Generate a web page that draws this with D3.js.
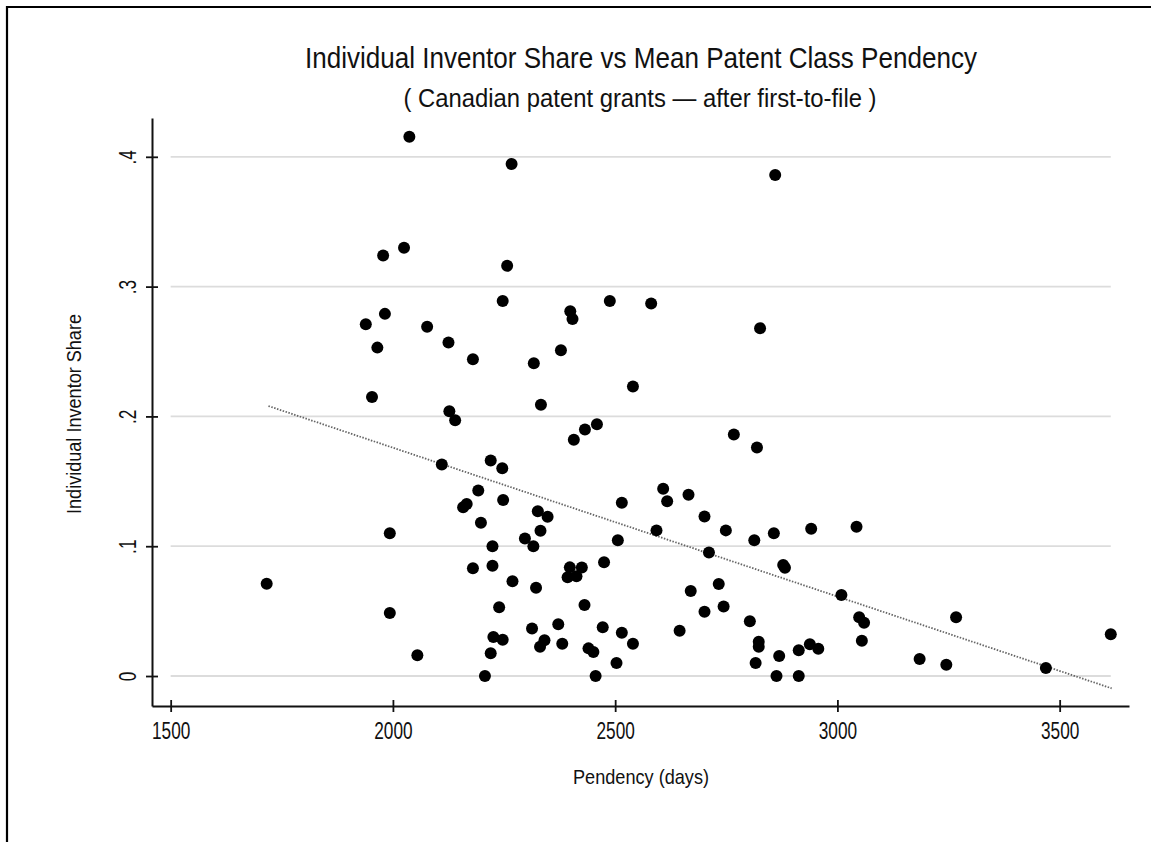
<!DOCTYPE html>
<html><head><meta charset="utf-8">
<script src="https://cdn.jsdelivr.net/npm/d3@7"></script>
<style>
body{margin:0;background:#fff}
svg{display:block}
text{font-family:"Liberation Sans",Arial,Helvetica,sans-serif;fill:#111}
</style>
</head><body>
<svg id="c" width="1151" height="842"></svg>
<script>
// Data
const pendency = [2037,2267,2860,2025,1978,2257,1939,1982,2247,2488,
  2581,2399,2404,2077,1965,2826,2317,2378,2125,2180,
  2540,1953,2127,2140,2333,2459,2432,2407,2767,2819,
  2110,2220,2246,2192,2158,2166,2248,2198,1993,2224,
  2180,2224,1716,2239,1993,2055,2226,2247,2220,2207,
  2326,2348,2332,2297,2316,2269,2322,2398,2425,2393,
  2413,2475,2431,2313,2372,2472,2515,2341,2331,2381,
  2540,2440,2451,2503,2456,2515,2506,2593,2608,2617,
  2665,2701,2711,2749,2813,2857,2941,2878,2882,2733,
  2670,2701,2744,2803,2645,2823,2823,2816,2869,2913,
  2938,2957,2863,2913,3009,3043,3049,3060,3055,3267,
  3185,3245,3469,3615];
const share = [.4155,.3945,.386,.330,.324,.316,.271,.279,.289,.289,
  .287,.281,.275,.269,.253,.268,.241,.251,.257,.244,
  .223,.215,.204,.197,.209,.194,.190,.182,.186,.176,
  .163,.166,.160,.143,.130,.1325,.1356,.118,.110,.100,
  .083,.085,.071,.053,.0485,.016,.030,.028,.0175,0,
  .127,.1227,.112,.106,.100,.073,.068,.0837,.0836,.076,
  .0768,.0877,.0547,.0366,.0398,.0376,.0334,.0276,.0226,.0249,
  .0249,.0213,.0185,.010,0,.1334,.1046,.1122,.1442,.1347,
  .1397,.1229,.0951,.1122,.1046,.110,.1135,.0855,.0834,.0709,
  .0655,.0495,.0535,.0422,.0348,.0264,.0226,.010,.0154,.0198,
  .0244,.021,0,0,.0624,.115,.0452,.041,.0272,.0452,
  .0131,.0087,.0062,.0321];
const fitX = [1720, 3617];
const fitY = [0.208, -0.0095];
const xTicks = [1500, 2000, 2500, 3000, 3500];
const yTicks = [0, 0.1, 0.2, 0.3, 0.4];
const yTickLabels = ["0", ".1", ".2", ".3", ".4"];
const titleText = "Individual Inventor Share vs Mean Patent Class Pendency";
const subtitleText = "( Canadian patent grants \u2014 after first-to-file )";
const xTitle = "Pendency (days)";
const yTitle = "Individual Inventor Share";

const svg = d3.select('#c');
const x = d3.scaleLinear().domain([1458, 3656]).range([152, 1129]);
const y = d3.scaleLinear().domain([-0.0231, 0.4299]).range([706, 118]);

// outer frame (top and left edges)
svg.append('path').attr('d', 'M7,842V7H1151').attr('fill', 'none')
  .attr('stroke', '#000').attr('stroke-width', 2.2);

// gridlines
svg.append('g').selectAll('line').data(yTicks).join('line')
  .attr('x1', x(xTicks[0])).attr('x2', x(d3.max(pendency)))
  .attr('y1', d => y(d)).attr('y2', d => y(d))
  .attr('stroke', '#dcdcdc').attr('stroke-width', 1.8);

// fitted line
svg.append('line')
  .attr('x1', x(fitX[0])).attr('y1', y(fitY[0]))
  .attr('x2', x(fitX[1])).attr('y2', y(fitY[1]))
  .attr('stroke', '#666').attr('stroke-width', 1.8)
  .attr('stroke-dasharray', '1.5,1.5');

// points
svg.append('g').selectAll('circle').data(pendency).join('circle')
  .attr('cx', d => x(d)).attr('cy', (d, i) => y(share[i]))
  .attr('r', 6).attr('fill', '#000');

// x axis
const gx = svg.append('g').attr('transform', `translate(0,${y.range()[0]})`)
  .call(d3.axisBottom(x).tickValues(xTicks).tickFormat(d3.format('d')).tickSizeOuter(0));
gx.attr('font-size', null).attr('font-family', null);
gx.select('.domain').attr('stroke', '#111').attr('stroke-width', 2);
gx.selectAll('.tick line').attr('y1', -6).attr('y2', 6).attr('stroke', '#111').attr('stroke-width', 1.8);
gx.selectAll('.tick text').attr('y', 33).attr('dy', null).attr('font-size', 23)
  .attr('fill', '#111').attr('transform', 'scale(0.75,1)');

// y axis
const gy = svg.append('g').attr('transform', `translate(${x.range()[0]},0)`)
  .call(d3.axisLeft(y).tickValues(yTicks).tickFormat((d, i) => yTickLabels[i]).tickSizeOuter(0));
gy.attr('font-size', null).attr('font-family', null);
gy.select('.domain').attr('stroke', '#111').attr('stroke-width', 2);
gy.selectAll('.tick line').attr('x1', 6).attr('x2', -6).attr('stroke', '#111').attr('stroke-width', 1.8);
gy.selectAll('.tick text').attr('x', 0).attr('y', -16).attr('dy', null)
  .attr('text-anchor', 'middle').attr('font-size', 23).attr('fill', '#111')
  .attr('transform', 'rotate(-90) scale(0.75,1)');

// titles
svg.append('text').attr('x', 641).attr('y', 68).attr('text-anchor', 'middle')
  .attr('font-size', 30).attr('textLength', 672).attr('lengthAdjust', 'spacingAndGlyphs')
  .text(titleText);
svg.append('text').attr('x', 640).attr('y', 107).attr('text-anchor', 'middle')
  .attr('font-size', 25).attr('textLength', 473).attr('lengthAdjust', 'spacingAndGlyphs')
  .text(subtitleText);
svg.append('text').attr('x', 641).attr('y', 784).attr('text-anchor', 'middle')
  .attr('font-size', 21).attr('textLength', 136).attr('lengthAdjust', 'spacingAndGlyphs')
  .text(xTitle);
svg.append('text').attr('transform', 'translate(81,414) rotate(-90)').attr('text-anchor', 'middle')
  .attr('font-size', 21).attr('textLength', 200).attr('lengthAdjust', 'spacingAndGlyphs')
  .text(yTitle);
</script>
</body></html>
